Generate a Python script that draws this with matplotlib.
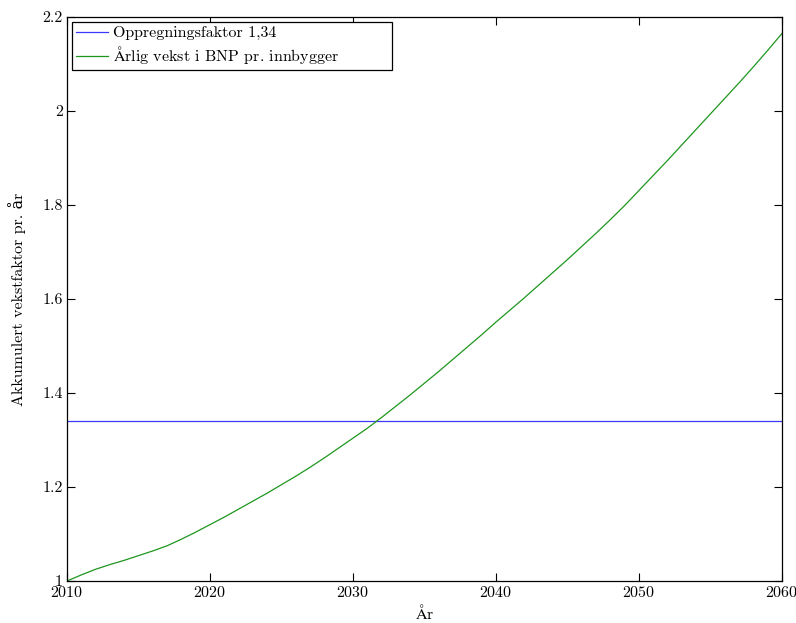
import matplotlib
matplotlib.use("Agg")
from matplotlib import pyplot as plt
from matplotlib.ticker import FormatStrFormatter

plt.rcParams['font.family'] = ['cmr10', 'DejaVu Serif']
plt.rcParams['mathtext.fontset'] = 'cm'
plt.rcParams['axes.formatter.use_mathtext'] = True

# data
years = list(range(2010, 2061))
vekst = [1.000, 1.013, 1.025, 1.035, 1.044, 1.054, 1.064, 1.075, 1.089, 1.104,
         1.120, 1.136, 1.153, 1.170, 1.187, 1.205, 1.223, 1.242, 1.262, 1.283,
         1.304, 1.325, 1.348, 1.372, 1.396, 1.421, 1.446, 1.472, 1.498, 1.524,
         1.551, 1.577, 1.603, 1.630, 1.657, 1.684, 1.712, 1.740, 1.769, 1.799,
         1.831, 1.863, 1.895, 1.928, 1.961, 1.994, 2.027, 2.060, 2.094, 2.129,
         2.165]
oppregning = 1.34
xticks = [2010, 2020, 2030, 2040, 2050, 2060]
yticks = [1, 1.2, 1.4, 1.6, 1.8, 2, 2.2]

AA = r'$\mathrm{\AA}$'

fig = plt.figure(figsize=(7.96, 6.23), dpi=100)
ax = fig.add_axes([0.0842, 0.0674, 0.8982, 0.9053])

ax.plot([years[0], years[-1]], [oppregning, oppregning], color='#3a3aff',
        linewidth=0.9, label='Oppregningsfaktor 1,34')
ax.plot(years, vekst, color='#1e961e', linewidth=0.9,
        label=AA + 'rlig vekst i BNP pr. innbygger')

ax.set_xlim(2010, 2060)
ax.set_ylim(1, 2.2)
ax.set_xticks(xticks)
ax.set_yticks(yticks)
ax.yaxis.set_major_formatter(FormatStrFormatter('%g'))
ax.tick_params(direction='in', top=True, right=True, length=6, width=0.8,
               labelsize=11.5, pad=3)
for s in ax.spines.values():
    s.set_linewidth(0.9)

ax.set_xlabel(AA + 'r', fontsize=11.5, labelpad=2)
ax.set_ylabel('Akkumulert vekstfaktor pr. år', fontsize=11.5, labelpad=12)

leg = ax.legend(loc='upper left', bbox_to_anchor=(0.007, 0.991, 0.4476, 0.0),
                mode='expand', borderaxespad=0, fontsize=11.5, fancybox=False,
                framealpha=1, edgecolor='black', handlelength=2.0,
                borderpad=0.25, labelspacing=0.25, handletextpad=0.3)
leg.get_frame().set_linewidth(0.9)

fig.savefig('out.png', dpi=100)
